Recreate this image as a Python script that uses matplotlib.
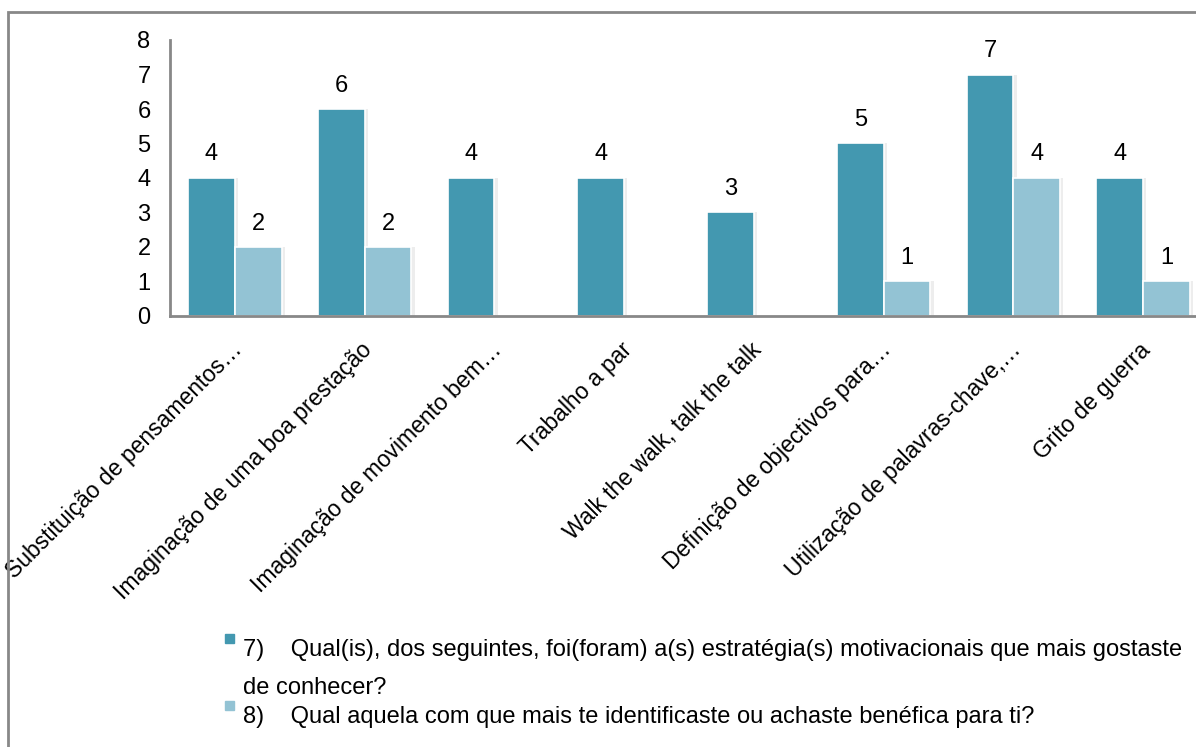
import numpy as np
import matplotlib
matplotlib.use("Agg")
import matplotlib.pyplot as plt
import matplotlib.transforms as mtransforms
from matplotlib.patches import Rectangle

plt.rcParams['font.family'] = ['Liberation Sans', 'DejaVu Sans']

categorias = ["Substituição de pensamentos…", "Imaginação de uma boa prestação",
              "Imaginação de movimento bem…", "Trabalho a par",
              "Walk the walk, talk the talk", "Definição de objectivos para…",
              "Utilização de palavras-chave,…", "Grito de guerra"]
q7 = [4, 6, 4, 4, 3, 5, 7, 4]
q8 = [2, 2, None, None, None, 1, 4, 1]
legenda_q7 = "7)    Qual(is), dos seguintes, foi(foram) a(s) estratégia(s) motivacionais que mais gostaste"
legenda_q7b = "de conhecer?"
legenda_q8 = "8)    Qual aquela com que mais te identificaste ou achaste benéfica para ti?"

cor_escura = "#4398b0"
cor_clara = "#93c3d4"

W, H = 1196, 747
fig = plt.figure(figsize=(W / 100, H / 100), dpi=100)
ax = fig.add_axes([170 / W, 1 - 316 / H, 1038 / W, 276 / H])

x = np.arange(len(categorias))
w = 0.36
v8 = np.array([np.nan if v is None else v for v in q8], dtype=float)

# sombra leve atrás das barras
for xs, vals in ((x - w / 2, q7), (x + w / 2, v8)):
    ax.bar(xs + 0.025, vals, w, color="#000000", alpha=0.07, zorder=1)

ax.bar(x - w / 2, q7, w, color=cor_escura, edgecolor="white", linewidth=1.2, zorder=2)
ax.bar(x + w / 2, v8, w, color=cor_clara, edgecolor="white", linewidth=1.2, zorder=2)

for xs, vals in ((x - w / 2, q7), (x + w / 2, q8)):
    for xi, v in zip(xs, vals):
        if v is None:
            continue
        ax.annotate(str(v), (xi, v), xytext=(0, 9), textcoords="offset points",
                    ha="center", va="bottom", fontsize=17)

ax.set_xlim(-0.5, len(categorias) - 0.5)
ax.set_ylim(0, 8)
ax.set_yticks(range(9))
ax.tick_params(axis="y", length=0, labelsize=17, pad=14)
ax.tick_params(axis="x", length=0, pad=22)
ax.set_xticks(x)
ax.set_xticklabels(categorias, rotation=45, ha="right", va="center",
                   rotation_mode="anchor", fontsize=16.5)
desloc = mtransforms.ScaledTranslation(4 / 100, 0, fig.dpi_scale_trans)
for lbl in ax.get_xticklabels():
    lbl.set_transform(lbl.get_transform() + desloc)

for s in ("top", "right"):
    ax.spines[s].set_visible(False)
for s in ("left", "bottom"):
    ax.spines[s].set_color("#888888")
    ax.spines[s].set_linewidth(2)

# moldura da área do gráfico
fig.patches.append(Rectangle((8 / W, -0.1), 1.2, 1 - 12 / H + 0.1, transform=fig.transFigure,
                             fill=False, edgecolor="#888888", linewidth=2))

# legenda
fig.patches.append(Rectangle((225 / W, 1 - 643 / H), 9 / W, 9 / H, transform=fig.transFigure,
                             color=cor_escura))
fig.patches.append(Rectangle((225 / W, 1 - 710 / H), 9 / W, 9 / H, transform=fig.transFigure,
                             color=cor_clara))
fig.text(243 / W, 1 - 650 / H, legenda_q7, fontsize=17, va="center")
fig.text(243 / W, 1 - 688 / H, legenda_q7b, fontsize=17, va="center")
fig.text(243 / W, 1 - 717 / H, legenda_q8, fontsize=17, va="center")

fig.savefig("out.png", dpi=100)
